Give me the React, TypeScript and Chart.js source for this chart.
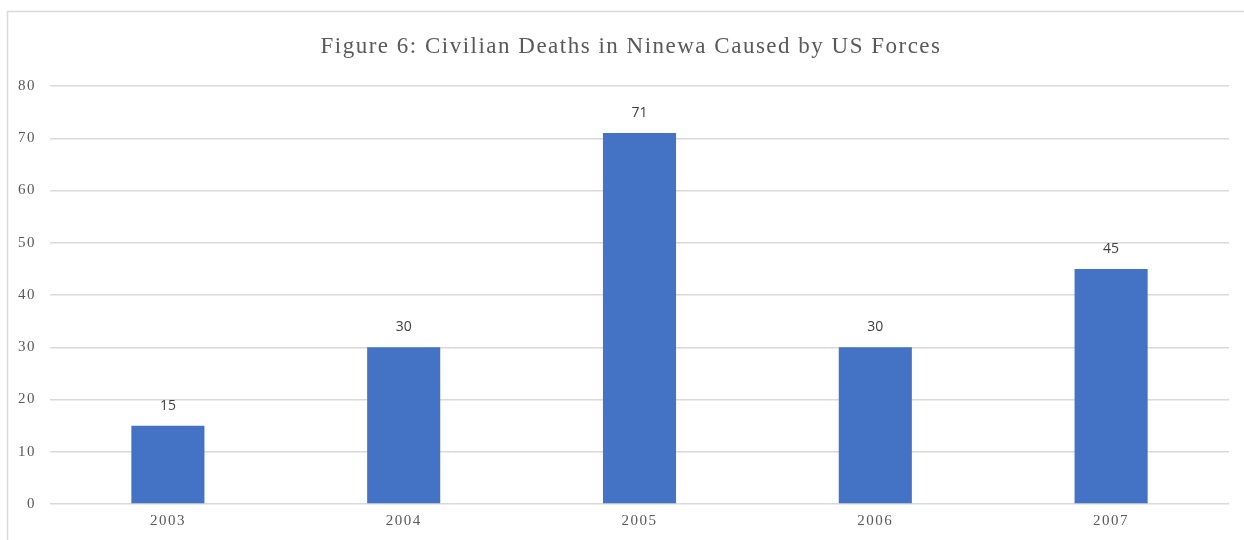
import React, { useEffect, useRef } from "react";
import { Chart, registerables } from "chart.js";

Chart.register(...registerables);

const years = ["2003", "2004", "2005", "2006", "2007"];
const deaths = [15, 30, 71, 30, 45];
const chartTitle = "Figure 6: Civilian Deaths in Ninewa Caused by US Forces";

const GRID = "#d9d9d9";
const TEXT = "#595959";
const SERIF = "'Liberation Serif', serif";

// Frame lines along the top and left edges, the centred title,
// and the wider letter spacing used by the axis labels.
const framePlugin = {
  id: "frameAndTitle",
  beforeDraw(chart: any) {
    const { ctx, width, height } = chart;
    ctx.save();
    ctx.strokeStyle = GRID;
    ctx.lineWidth = 1.5;
    ctx.beginPath();
    ctx.moveTo(width, 11.5);
    ctx.lineTo(7.5, 11.5);
    ctx.lineTo(7.5, height);
    ctx.stroke();
    ctx.fillStyle = TEXT;
    ctx.font = `23px ${SERIF}`;
    ctx.textAlign = "center";
    ctx.textBaseline = "alphabetic";
    (ctx as any).letterSpacing = "1.5px";
    ctx.fillText(chartTitle, 631, 53);
    ctx.restore();
    (ctx as any).letterSpacing = "1.5px";
  },
};

// Value labels above each bar.
const valueLabelPlugin = {
  id: "valueLabels",
  afterDatasetsDraw(chart: any) {
    const { ctx } = chart;
    const meta = chart.getDatasetMeta(0);
    ctx.save();
    (ctx as any).letterSpacing = "0px";
    ctx.fillStyle = "#404040";
    ctx.font = "14px 'Open Sans', sans-serif";
    ctx.textAlign = "center";
    ctx.textBaseline = "middle";
    meta.data.forEach((bar: any, i: number) => {
      ctx.fillText(String(deaths[i]), bar.x, bar.y - 20);
    });
    ctx.restore();
  },
  afterDraw(chart: any) {
    (chart.ctx as any).letterSpacing = "0px";
  },
};

export default function App() {
  const canvasRef = useRef<HTMLCanvasElement | null>(null);

  useEffect(() => {
    if (!canvasRef.current) return;
    const chart = new Chart(canvasRef.current, {
      type: "bar",
      data: {
        labels: years,
        datasets: [
          {
            data: deaths,
            backgroundColor: "#4472C4",
            borderWidth: 0,
            categoryPercentage: 1,
            barPercentage: 0.31,
          },
        ],
      },
      options: {
        animation: false,
        responsive: false,
        maintainAspectRatio: false,
        layout: { padding: { top: 86, right: 15, bottom: 0, left: 0 } },
        plugins: {
          legend: { display: false },
          title: { display: false },
          tooltip: { enabled: false },
        },
        scales: {
          x: {
            grid: { display: false, drawTicks: false },
            border: { display: false },
            ticks: {
              color: TEXT,
              font: { family: SERIF, size: 15 },
              padding: 8,
            },
            afterFit(scale: any) {
              scale.height = 36;
            },
          },
          y: {
            min: 0,
            max: 80,
            grid: { color: GRID, lineWidth: 1.5, drawTicks: false },
            border: { display: false },
            ticks: {
              stepSize: 10,
              color: TEXT,
              font: { family: SERIF, size: 15 },
              padding: 14,
            },
            afterFit(scale: any) {
              scale.width = 50;
            },
          },
        },
      },
      plugins: [framePlugin, valueLabelPlugin],
    });
    return () => chart.destroy();
  }, []);

  return (
    <div style={{ position: "absolute", left: 0, top: 0, width: 1244, height: 540, background: "#fff" }}>
      <canvas ref={canvasRef} width={1244} height={540} style={{ display: "block" }} />
    </div>
  );
}
